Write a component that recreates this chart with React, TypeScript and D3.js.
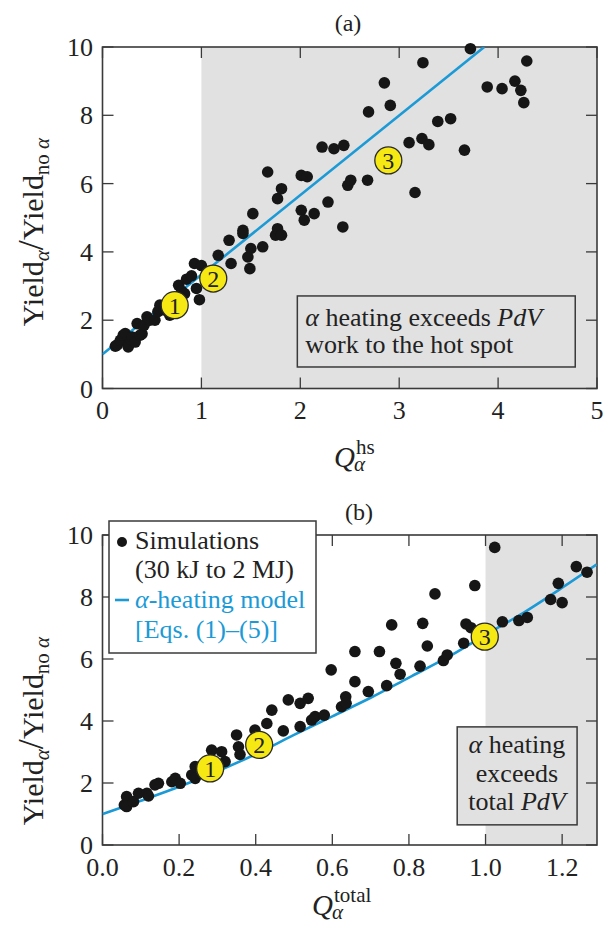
import React from 'react';
import * as d3 from 'd3';

// panel (a): yield amplification vs hot-spot alpha heating ratio
const hsQ = [0.13, 0.15, 0.18, 0.21, 0.23, 0.26, 0.27, 0.29, 0.3, 0.33, 0.35, 0.38, 0.4, 0.42, 0.45, 0.48, 0.53, 0.56, 0.58, 0.62, 0.68, 0.72, 0.77, 0.8, 0.83, 0.85, 0.9, 0.93, 0.95, 0.98, 1.0, 1.17, 1.28, 1.3, 1.42, 1.42, 1.47, 1.49, 1.5, 1.52, 1.62, 1.67, 1.75, 1.77, 1.81, 1.77, 1.81, 2.01, 2.04, 2.14, 2.01, 2.07, 2.28, 2.43, 2.22, 2.34, 2.44, 2.48, 2.51, 2.68, 2.69, 2.91, 2.85, 3.24, 3.72, 3.16, 3.1, 3.23, 3.3, 3.39, 3.52, 3.66, 3.89, 4.04, 4.17, 4.23, 4.26, 4.29];
const hsYield = [1.24, 1.28, 1.41, 1.56, 1.61, 1.22, 1.3, 1.43, 1.51, 1.36, 1.9, 1.56, 1.6, 1.85, 2.1, 2.0, 2.0, 2.25, 2.44, 2.3, 2.15, 2.55, 3.02, 2.85, 2.78, 3.2, 3.3, 3.66, 2.93, 2.6, 3.6, 3.9, 4.34, 3.66, 4.63, 4.54, 3.85, 3.51, 4.1, 5.12, 4.15, 6.34, 4.49, 4.68, 4.49, 5.56, 5.85, 5.22, 4.93, 5.12, 6.24, 6.2, 5.46, 4.73, 7.07, 7.02, 7.12, 5.95, 6.1, 6.1, 8.1, 8.29, 8.95, 9.54, 9.95, 5.74, 7.2, 7.32, 7.14, 7.82, 7.9, 6.98, 8.83, 8.78, 9.0, 8.73, 8.37, 9.59];
const hsModelQ = [0, 3.86];
const hsModelYield = [1.0, 10.0];
const hsMarkers = [[0.73, 2.44], [1.12, 3.22], [2.89, 6.68]];

// panel (b): yield amplification vs total alpha heating ratio
const totQ = [0.057, 0.063, 0.063, 0.081, 0.094, 0.116, 0.12, 0.137, 0.146, 0.181, 0.19, 0.203, 0.233, 0.242, 0.242, 0.285, 0.311, 0.32, 0.35, 0.355, 0.359, 0.398, 0.429, 0.442, 0.472, 0.485, 0.516, 0.537, 0.516, 0.546, 0.555, 0.579, 0.597, 0.624, 0.635, 0.636, 0.659, 0.659, 0.694, 0.723, 0.755, 0.742, 0.766, 0.777, 0.829, 0.836, 0.848, 0.868, 0.89, 0.9, 0.943, 0.949, 0.962, 0.972, 1.024, 1.044, 1.087, 1.109, 1.17, 1.2, 1.19, 1.237, 1.265];
const totYield = [1.29, 1.56, 1.24, 1.4, 1.67, 1.67, 1.58, 1.94, 1.99, 2.04, 2.15, 1.99, 2.26, 2.53, 2.15, 3.06, 3.01, 2.69, 3.55, 3.17, 2.92, 3.71, 3.92, 4.35, 3.68, 4.68, 4.57, 4.73, 3.82, 4.03, 4.14, 4.19, 5.65, 4.46, 4.78, 4.57, 6.24, 5.27, 4.95, 6.24, 7.1, 5.14, 5.86, 5.51, 5.77, 7.15, 6.42, 8.1, 5.95, 6.13, 6.51, 7.13, 7.01, 8.37, 9.6, 7.2, 7.24, 7.34, 7.92, 7.82, 8.44, 8.98, 8.8];
const totModelQ = [0, 0.1, 0.2, 0.3, 0.4, 0.5, 0.6, 0.7, 0.8, 0.9, 1.0, 1.1, 1.2, 1.29];
const totModelYield = [1.0, 1.43, 1.88, 2.38, 2.93, 3.55, 4.15, 4.75, 5.4, 6.05, 6.78, 7.5, 8.3, 9.05];
const totMarkers = [[0.281, 2.47], [0.409, 3.23], [0.998, 6.72]];

const hsTicks = [0, 1, 2, 3, 4, 5];
const totTicks = [0, 0.2, 0.4, 0.6, 0.8, 1.0, 1.2];
const yTicks = [0, 2, 4, 6, 8, 10];

const FONT = "'Liberation Serif', 'Times New Roman', serif";
const AXIS = '#3a3a3a';
const BLUE = '#1b9ad6';
const SHADE = '#e1e1e1';
const YELLOW = '#f6e813';

type Scale = d3.ScaleLinear<number, number>;

type PanelProps = {
  top: number;
  height: number;
  xMax: number;
  xTicks: number[];
  fmt: (v: number) => string;
  shadeFrom: number;
  qs: number[];
  ys: number[];
  modelQ: number[];
  modelY: number[];
  markers: number[][];
  title: string;
  titleX: number;
  titleY: number;
  tickBase: number;
  yLabelY: number;
  children?: (x: Scale, y: Scale) => React.ReactNode;
  xLabel: React.ReactNode;
};

const left = 102.5;
const width = 494.5;

function Panel(p: PanelProps) {
  const x = d3.scaleLinear().domain([0, p.xMax]).range([left, left + width]);
  const y = d3.scaleLinear().domain([0, 10]).range([p.top + p.height, p.top]);
  const line = d3.line<number>()
    .x((_, i) => x(p.modelQ[i]))
    .y(d => y(d))
    .curve(d3.curveMonotoneX);
  const clipId = 'clip' + p.title.replace(/[()]/g, '');
  const tl = 11;
  return (
    <g>
      <defs>
        <clipPath id={clipId}>
          <rect x={left} y={p.top} width={width} height={p.height} />
        </clipPath>
      </defs>
      <rect x={x(p.shadeFrom)} y={p.top} width={x(p.xMax) - x(p.shadeFrom)} height={p.height} fill={SHADE} />
      {p.xTicks.map(t => (
        <g key={'x' + t}>
          <line x1={x(t)} x2={x(t)} y1={p.top + p.height} y2={p.top + p.height - tl} stroke={AXIS} strokeWidth={1.3} />
          <line x1={x(t)} x2={x(t)} y1={p.top} y2={p.top + tl} stroke={AXIS} strokeWidth={1.3} />
          <text x={x(t)} y={p.tickBase} textAnchor="middle" fontSize={26} fill="#222">{p.fmt(t)}</text>
        </g>
      ))}
      {yTicks.map(t => (
        <g key={'y' + t}>
          <line x1={left} x2={left + tl} y1={y(t)} y2={y(t)} stroke={AXIS} strokeWidth={1.3} />
          <line x1={left + width} x2={left + width - tl} y1={y(t)} y2={y(t)} stroke={AXIS} strokeWidth={1.3} />
          <text x={93} y={y(t) + 9} textAnchor="end" fontSize={26} fill="#222">{t}</text>
        </g>
      ))}
      <rect x={left} y={p.top} width={width} height={p.height} fill="none" stroke={AXIS} strokeWidth={1.6} />
      <path d={line(p.modelY) || ''} fill="none" stroke={BLUE} strokeWidth={2.6} clipPath={`url(#${clipId})`} />
      {p.qs.map((q, i) => (
        <circle key={'d' + i} cx={x(q)} cy={y(p.ys[i])} r={5.8} fill="#161616" />
      ))}
      {p.markers.map((m, i) => (
        <g key={'m' + i}>
          <circle cx={x(m[0])} cy={y(m[1])} r={13.5} fill={YELLOW} stroke="#2a2a2a" strokeWidth={1.3} />
          <text x={x(m[0])} y={y(m[1]) + 8.5} textAnchor="middle" fontSize={24} fill="#222">{i + 1}</text>
        </g>
      ))}
      {p.children && p.children(x, y)}
      <text x={p.titleX} y={p.titleY} textAnchor="middle" fontSize={24} fill="#222">{p.title}</text>
      <text transform={`translate(43,${p.yLabelY}) rotate(-90)`} textAnchor="middle" fontSize={30} fill="#222">
        Yield<tspan fontSize={21} fontStyle="italic" dy={6}>α</tspan>
        <tspan fontSize={36} dy={-6}>/</tspan>
        <tspan>Yield</tspan>
        <tspan fontSize={21} dy={6}>no </tspan>
        <tspan fontSize={21} fontStyle="italic">α</tspan>
      </text>
      {p.xLabel}
    </g>
  );
}

// Q with an alpha subscript and a roman superscript stacked above it
function QLabel({ x, base, sup }: { x: number; base: number; sup: string }) {
  return (
    <g fill="#222">
      <text x={x} y={base} fontSize={29} fontStyle="italic">Q</text>
      <text x={x + 20} y={base + 4} fontSize={21} fontStyle="italic">α</text>
      <text x={x + 22} y={base - 13} fontSize={21}>{sup}</text>
    </g>
  );
}

export default function App() {
  return (
    <svg width={604} height={927} style={{ position: 'absolute', left: 0, top: 0, background: '#fff' }} fontFamily={FONT}>
      <Panel
        top={47}
        height={341.5}
        xMax={5}
        xTicks={hsTicks}
        fmt={d3.format('d')}
        shadeFrom={1}
        qs={hsQ}
        ys={hsYield}
        modelQ={hsModelQ}
        modelY={hsModelYield}
        markers={hsMarkers}
        title="(a)"
        titleX={348}
        titleY={31}
        tickBase={419}
        yLabelY={232}
        xLabel={<QLabel x={334} base={467} sup="hs" />}
      >
        {(x, y) => (
          <g>
            <rect x={x(1.97)} y={y(2.71)} width={x(4.78) - x(1.97)} height={y(0.63) - y(2.71)} fill={SHADE} stroke={AXIS} strokeWidth={1.5} />
            <text x={x(1.97) + 8} y={y(2.71) + 30} fontSize={26} fill="#222">
              <tspan fontStyle="italic">α</tspan> heating exceeds <tspan fontStyle="italic">PdV</tspan>
            </text>
            <text x={x(1.97) + 8} y={y(2.71) + 57} fontSize={26} fill="#222">work to the hot spot</text>
          </g>
        )}
      </Panel>
      <Panel
        top={535}
        height={310}
        xMax={1.291}
        xTicks={totTicks}
        fmt={d3.format('.1f')}
        shadeFrom={1}
        qs={totQ}
        ys={totYield}
        modelQ={totModelQ}
        modelY={totModelYield}
        markers={totMarkers}
        title="(b)"
        titleX={359}
        titleY={520}
        tickBase={876}
        yLabelY={731}
        xLabel={<QLabel x={312} base={915} sup="total" />}
      >
        {(x, y) => (
          <g>
            <rect x={x(0.926)} y={y(3.81)} width={x(1.239) - x(0.926)} height={y(0.65) - y(3.81)} fill={SHADE} stroke={AXIS} strokeWidth={1.5} />
            <text x={x(1.082)} y={y(3.81) + 26} textAnchor="middle" fontSize={26} fill="#222">
              <tspan fontStyle="italic">α</tspan> heating
            </text>
            <text x={x(1.082)} y={y(3.81) + 55} textAnchor="middle" fontSize={26} fill="#222">exceeds</text>
            <text x={x(1.082)} y={y(3.81) + 83} textAnchor="middle" fontSize={26} fill="#222">
              total <tspan fontStyle="italic">PdV</tspan>
            </text>
            <rect x={109} y={521} width={207} height={132} fill="#fff" stroke={AXIS} strokeWidth={1.5} />
            <circle cx={122} cy={542} r={5} fill="#161616" />
            <text x={135} y={549} fontSize={26} fill="#222">Simulations</text>
            <text x={135} y={578} fontSize={26} fill="#222">(30 kJ to 2 MJ)</text>
            <line x1={115} x2={129} y1={600} y2={600} stroke={BLUE} strokeWidth={2.6} />
            <text x={135} y={608} fontSize={26} fill={BLUE}>
              <tspan fontStyle="italic">α</tspan>-heating model
            </text>
            <text x={135} y={638} fontSize={26} fill={BLUE}>[Eqs. (1)–(5)]</text>
          </g>
        )}
      </Panel>
    </svg>
  );
}
